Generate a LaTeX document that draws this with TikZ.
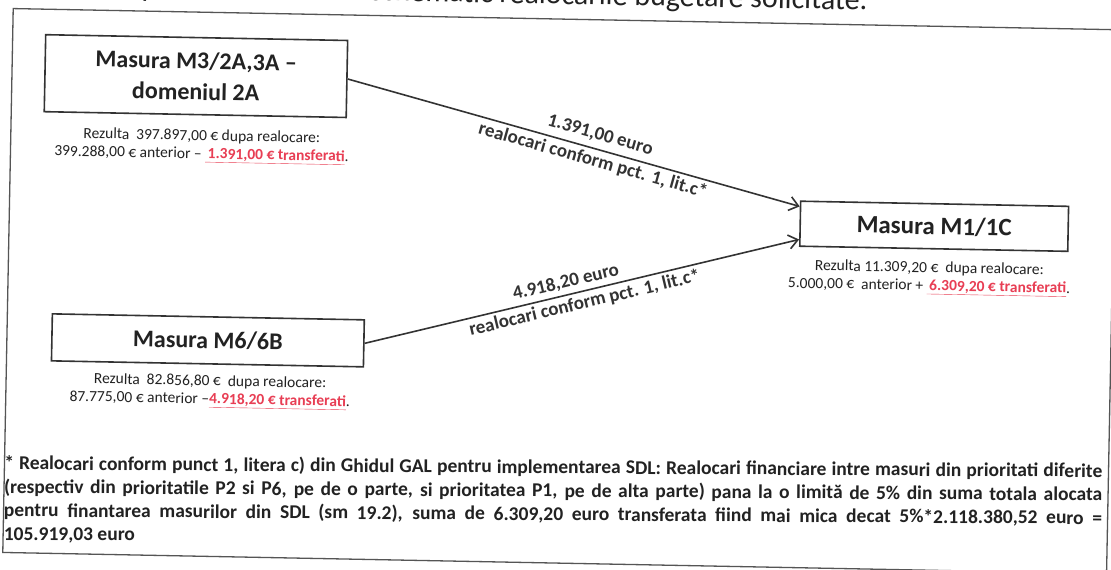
\documentclass[tikz,border=0pt]{standalone}
\usepackage{fontspec}
\setmainfont{Carlito}
\usetikzlibrary{arrows.meta,calc}
\definecolor{ink}{HTML}{222222}
\definecolor{lineink}{HTML}{333333}
\definecolor{framegray}{HTML}{555555}
\definecolor{redtxt}{RGB}{232,62,84}
\newcommand{\redul}[1]{\textcolor{redtxt}{\bfseries\underline{#1}}}
\tikzset{
  titlebox/.style={draw=lineink, line width=1.6pt, fill=white, align=center, text=ink,
    font=\fontsize{24}{31}\selectfont\bfseries, inner sep=0pt},
  infotext/.style={align=center, text=ink, font=\fontsize{15.5}{18}\selectfont, inner sep=0pt},
  flow/.style={draw=lineink, line width=1.6pt,
    -{Straight Barb[length=9pt,width=14pt,line width=1.6pt]}},
  flowlabel/.style={text=lineink, font=\fontsize{19}{22}\selectfont\bfseries, inner sep=1pt, sloped},
  footline/.style={anchor=base west, text=ink, font=\fontsize{19.5}{23}\selectfont\bfseries, inner sep=0pt},
}
\begin{document}
\begin{tikzpicture}[x=1pt,y=-1pt]
\useasboundingbox (0,0) rectangle (1111,570);
\fill[white] (0,0) rectangle (1111,570);
\clip (0,0) rectangle (1111,570);
\begin{scope}[rotate around={-1.1:(555,285)}, transform shape]
  \draw[framegray, line width=1.3pt] (8,19) rectangle (1112,563);
  \node[anchor=base east, text=ink, font=\fontsize{30}{34}\selectfont, inner sep=0pt] (title) at (862,4)
    {prezentam in mod schematic realocarile bugetare solicitate.};

  \node[titlebox, minimum width=302pt, minimum height=77pt] (m3) at (192,83)
    {Masura M3/2A,3A –\\domeniul 2A};
  \node[titlebox, minimum width=312pt, minimum height=47pt] (m6) at (209,347)
    {Masura M6/6B};
  \node[titlebox, minimum width=268pt, minimum height=45pt, font=\fontsize{25}{31}\selectfont\bfseries] (m1) at (933,219)
    {Masura M1/1C};

  \node[infotext] (m3info) at (199,153)
    {Rezulta\ \ 397.897,00 € dupa realocare:\\399.288,00 € anterior – \redul{\,1.391,00 € transferati}.};
  \node[infotext] (m6info) at (212,398)
    {Rezulta\ \ 82.856,80 €\ \ dupa realocare:\\87.775,00 € anterior –\redul{4.918,20 € transferati}.};
  \node[infotext] (m1info) at (929,271)
    {Rezulta 11.309,20 €\ \ dupa realocare:\\5.000,00 €\ \ anterior + \redul{\,6.309,20 € transferati}.};

  \draw[flow] (m3.east) -- ($(m1.north west)!0.13!(m1.south west)$)
    node[flowlabel, pos=0.55, above=5pt] (l1a) {1.391,00 euro}
    node[flowlabel, pos=0.55, below=2pt] (l1b) {realocari conform pct. 1, lit.c*};
  \draw[flow] (m6.east) -- ($(m1.north west)!0.84!(m1.south west)$)
    node[flowlabel, pos=0.47, above=3pt] (l2a) {4.918,20 euro}
    node[flowlabel, pos=0.5, below=2pt] (l2b) {realocari conform pct. 1, lit.c*};

  \begin{scope}[rotate around={0.7:(555,505)}]
  \node[footline] (f1) at (8,473.5) {\makebox[1098pt][s]{* Realocari conform punct 1, litera c) din Ghidul GAL pentru implementarea SDL: Realocari financiare intre masuri din prioritati diferite}};
  \node[footline] (f2) at (8,497) {\makebox[1098pt][s]{(respectiv din prioritatile P2 si P6, pe de o parte, si prioritatea P1, pe de alta parte) pana la o limită de 5\% din suma totala alocata}};
  \node[footline] (f3) at (8,520.5) {\makebox[1098pt][s]{pentru finantarea masurilor din SDL (sm 19.2), suma de 6.309,20 euro transferata fiind mai mica decat 5\%*2.118.380,52 euro =}};
  \node[footline] (f4) at (8,544) {105.919,03 euro};
  \end{scope}
\end{scope}
\end{tikzpicture}
\end{document}
